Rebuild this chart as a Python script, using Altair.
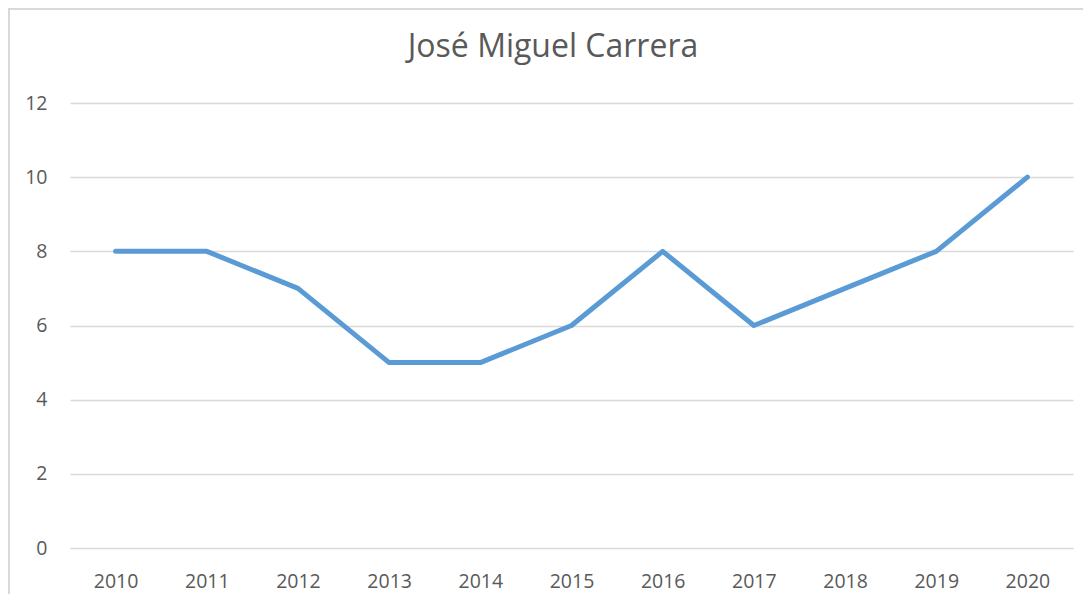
import altair as alt
import pandas as pd

years = ["2010", "2011", "2012", "2013", "2014", "2015", "2016", "2017", "2018", "2019", "2020"]
values = [8, 8, 7, 5, 5, 6, 8, 6, 7, 8, 10]
title_text = "José Miguel Carrera"

df = pd.DataFrame({"year": years, "value": values})

FONT = "Open Sans"
GRAY = "#595959"

line = alt.Chart(df).mark_line(color="#5b9bd5", strokeWidth=5, strokeCap="round", strokeJoin="round").encode(
    x=alt.X("year:N", sort=years, title=None,
            scale=alt.Scale(type="point", padding=0.5),
            axis=alt.Axis(labelAngle=0, ticks=False, domain=False, grid=False,
                          labelPadding=24, labelFontSize=19.5, labelColor=GRAY, labelFont=FONT)),
    y=alt.Y("value:Q", title=None,
            scale=alt.Scale(domain=[0, 12]),
            axis=alt.Axis(values=[0, 2, 4, 6, 8, 10, 12], ticks=False, domain=False,
                          gridColor="#d9d9d9", gridWidth=1.5, labelPadding=23,
                          labelFontSize=19.5, labelColor=GRAY, labelFont=FONT)),
)

title_mark = alt.Chart(pd.DataFrame({"t": [title_text]})).mark_text(
    font=FONT, fontSize=32, color=GRAY, align="center", baseline="middle"
).encode(text="t:N", x=alt.value(483), y=alt.value(-56))

top_border = alt.Chart(df).mark_rule(color="#d9d9d9", strokeWidth=1.5).encode(
    x=alt.value(-62), x2=alt.value(1013), y=alt.value(-94)
)
left_border = alt.Chart(df).mark_rule(color="#d9d9d9", strokeWidth=1.5).encode(
    x=alt.value(-61), y=alt.value(-95), y2=alt.value(491)
)

chart = alt.layer(line, title_mark, top_border, left_border).properties(
    width=1003,
    height=445,
    view=alt.ViewBackground(strokeOpacity=0, strokeWidth=0),
    autosize=alt.AutoSizeParams(type="none"),
    padding={"left": 62, "top": 95, "right": 10, "bottom": 46},
).configure_view(strokeWidth=0, stroke="transparent").configure(background="white")

chart.save("out.html", embed_options={"renderer": "svg", "actions": False})
